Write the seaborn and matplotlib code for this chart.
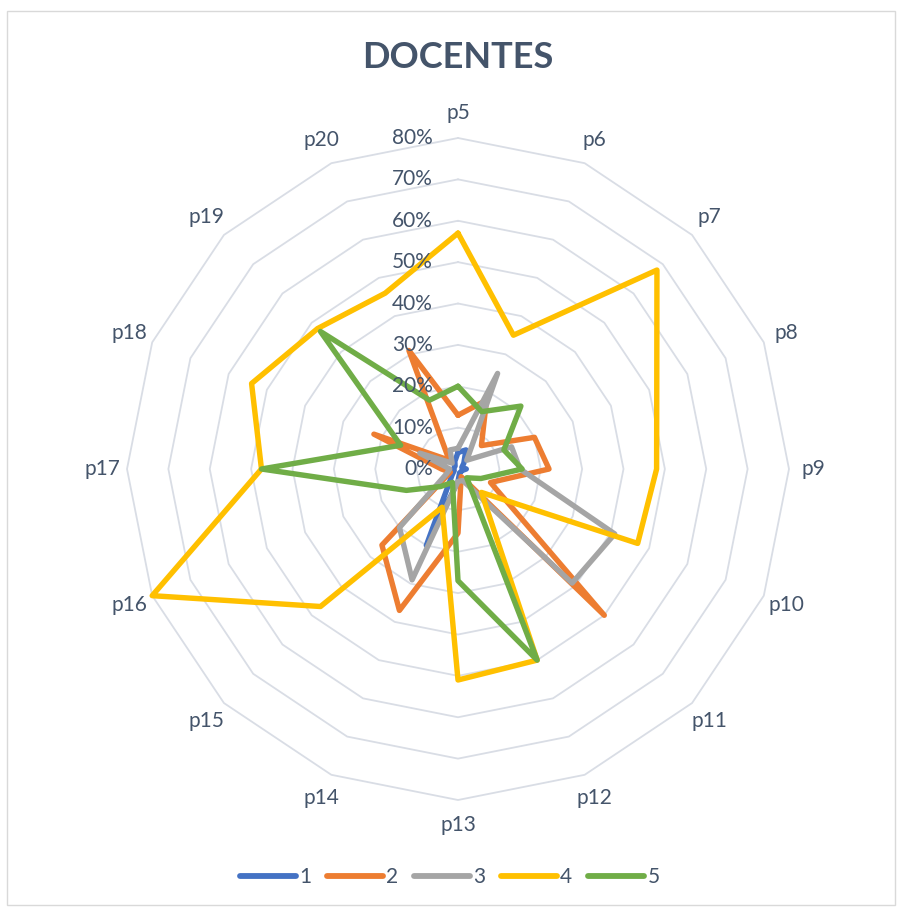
import numpy as np
import pandas as pd
import seaborn as sns
import matplotlib.pyplot as plt
from matplotlib.lines import Line2D
from matplotlib.patches import Rectangle

# preguntas (ejes del radar)
preguntas = ['p5', 'p6', 'p7', 'p8', 'p9', 'p10', 'p11', 'p12',
             'p13', 'p14', 'p15', 'p16', 'p17', 'p18', 'p19', 'p20']

# porcentaje de respuestas por nivel (1..5)
nivel_1 = [4, 5, 2, 1, 2, 1, 1, 1, 3, 20, 2, 1, 1, 1, 1, 2]
nivel_2 = [13, 18, 8, 20, 22, 8.5, 50, 2, 15.5, 37, 26, 2, 4, 22, 3, 31]
nivel_3 = [5, 25, 3, 14, 15, 41, 39, 3, 3, 29, 20, 3, 2, 10, 2, 5]
nivel_4 = [57, 35, 68, 52, 48, 47, 8, 50, 51, 10, 47, 80, 47.5, 54, 48, 46]
nivel_5 = [20, 15, 21.5, 12, 15.5, 6, 3, 50, 27, 3.5, 6, 13.5, 47.5, 15, 47, 18]

series = {'1': nivel_1, '2': nivel_2, '3': nivel_3, '4': nivel_4, '5': nivel_5}
colores = {'1': '#4472C4', '2': '#ED7D31', '3': '#A5A5A5', '4': '#FFC000', '5': '#70AD47'}

ticks = [0, 10, 20, 30, 40, 50, 60, 70, 80]

TEXT = '#44546A'
GRID = '#D9DDE5'


def build_frame():
    """Long table, closing each polygon by repeating the first point."""
    n = len(preguntas)
    theta = np.linspace(0, 2 * np.pi, n, endpoint=False)
    rows = []
    for name, vals in series.items():
        for i in range(n + 1):
            k = i % n
            t = theta[k] if i < n else 2 * np.pi
            rows.append({'serie': name, 'pregunta': preguntas[k], 'theta': t, 'valor': vals[k]})
    return pd.DataFrame(rows), theta


def plot_radar():
    sns.set_theme(style='white')
    plt.rcParams['font.family'] = ['Lato', 'DejaVu Sans']

    df, theta = build_frame()

    fig = plt.figure(figsize=(8.99, 9.09), dpi=100)
    ax = fig.add_axes([127 / 899, 109 / 909, 662 / 899, 662 / 909], projection='polar')
    ax.set_theta_offset(np.pi / 2)
    ax.set_theta_direction(-1)

    # polygon grid rings
    ring_t = np.append(theta, 2 * np.pi)
    for v in ticks[1:]:
        ax.plot(ring_t, [v] * len(ring_t), color=GRID, lw=1.3, zorder=1)

    sns.lineplot(data=df, x='theta', y='valor', hue='serie', palette=colores,
                 sort=False, estimator=None, lw=3.9, legend=False, ax=ax, zorder=3)
    for ln in ax.lines:
        ln.set_clip_on(False)
        ln.set_solid_joinstyle('round')

    ax.set_ylim(0, 80)
    ax.grid(False)
    ax.spines['polar'].set_visible(False)
    ax.set_xticks([])
    ax.set_yticks([])
    ax.set_xlabel('')
    ax.set_ylabel('')

    # value labels along p5 axis
    for v in ticks:
        ax.annotate(f'{v}%', xy=(0, v), xytext=(-18, 0), textcoords='offset points',
                    ha='right', va='center', fontsize=15, color=TEXT, annotation_clip=False)

    # category labels
    for t, lab in zip(theta, preguntas):
        ax.text(t, 86, lab, ha='center', va='center', fontsize=15, color=TEXT)

    fig.text(458 / 899, 1 - 58 / 909, 'DOCENTES', ha='center', va='center',
             fontsize=26, fontweight='bold', color=TEXT)

    handles = [Line2D([0], [0], color=colores[k], lw=4.2, solid_capstyle='round') for k in series]
    fig.legend(handles, list(series.keys()), loc='center', bbox_to_anchor=(0.5, 1 - 877 / 909),
               ncol=5, frameon=False, fontsize=15, handlelength=2.7, handletextpad=0.15,
               columnspacing=0.75, labelcolor=TEXT)

    fig.patches.append(Rectangle((7 / 899, 4 / 909), 888 / 899, 894 / 909,
                                 transform=fig.transFigure, fill=False,
                                 edgecolor='#D9D9D9', lw=1))

    fig.savefig('out.png', dpi=100)


if __name__ == "__main__":
    plot_radar()
